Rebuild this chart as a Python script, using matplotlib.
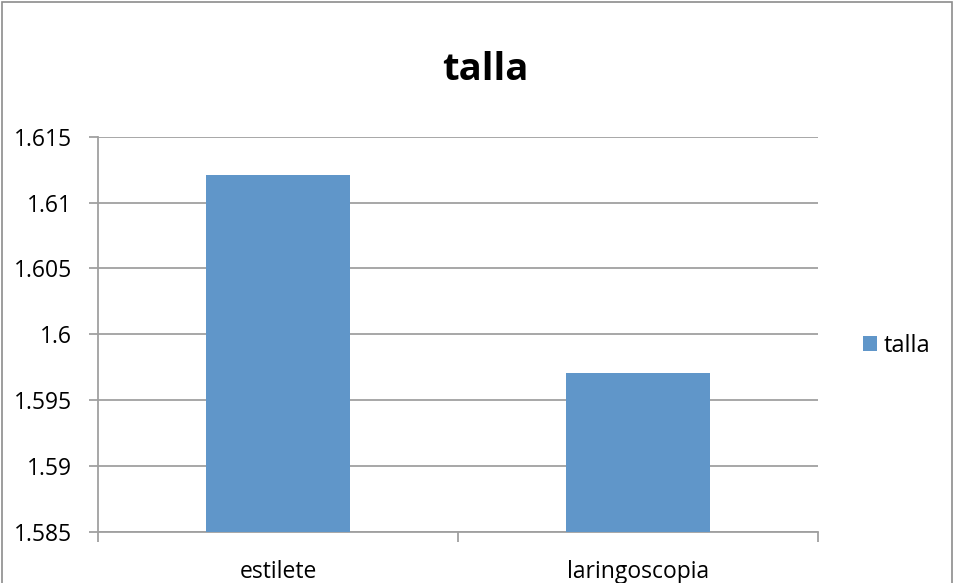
import matplotlib.pyplot as plt
from matplotlib.patches import Rectangle
import numpy as np

# D A T A ----------------------------------------------------------
categories = ['estilete', 'laringoscopia']
talla = [1.6121, 1.5971]
yticks = [1.585, 1.59, 1.595, 1.6, 1.605, 1.61, 1.615]
ytick_labels = ['1.585', '1.59', '1.595', '1.6', '1.605', '1.61', '1.615']

# S T Y L E --------------------------------------------------------
plt.rcParams['font.family'] = ['Open Sans', 'DejaVu Sans']
bar_color = '#6096C9'
grid_color = '#A0A0A0'

fig = plt.figure(figsize=(9.56, 5.83), dpi=100)
ax = fig.add_axes([0.1025, 0.0875, 0.753, 0.678])

x = np.arange(len(categories))
ax.bar(x, talla, width=0.4, color=bar_color, label='talla', zorder=3)

ax.set_xlim(-0.5, len(categories) - 0.5)
ax.set_ylim(1.585, 1.615)
ax.set_yticks(yticks)
ax.set_yticklabels(ytick_labels, fontsize=16.5)

# category ticks sit on boundaries, labels in the middle
ax.set_xticks(np.arange(len(categories) + 1) - 0.5)
ax.set_xticklabels([])
ax.set_xticks(x, minor=True)
ax.set_xticklabels(categories, minor=True, fontsize=16.5)
ax.tick_params(axis='x', which='minor', length=0, pad=20)
ax.tick_params(axis='x', which='major', length=7, color=grid_color, width=1.3)
ax.tick_params(axis='y', length=6.5, color=grid_color, width=1.3, pad=12)

ax.yaxis.grid(True, color=grid_color, linewidth=1.3, zorder=0)
for side in ['top', 'right']:
    ax.spines[side].set_visible(False)
for side in ['left', 'bottom']:
    ax.spines[side].set_color(grid_color)
    ax.spines[side].set_linewidth(1.3)

fig.text(0.508, 0.88, 'talla', ha='center', va='center',
         fontsize=27.5, fontweight='bold')

ax.legend(loc='center left', bbox_to_anchor=(1.0, 0.47), frameon=False,
          fontsize=17, handlelength=0.6, handleheight=0.6,
          handletextpad=0.3, borderaxespad=1.5)

# outer chart border
fig.patches.append(Rectangle((0.002, -0.01), 0.994, 1.006,
                             transform=fig.transFigure, fill=False,
                             edgecolor='#8C8C8C', linewidth=1.2))

fig.savefig('out.png', dpi=100)
